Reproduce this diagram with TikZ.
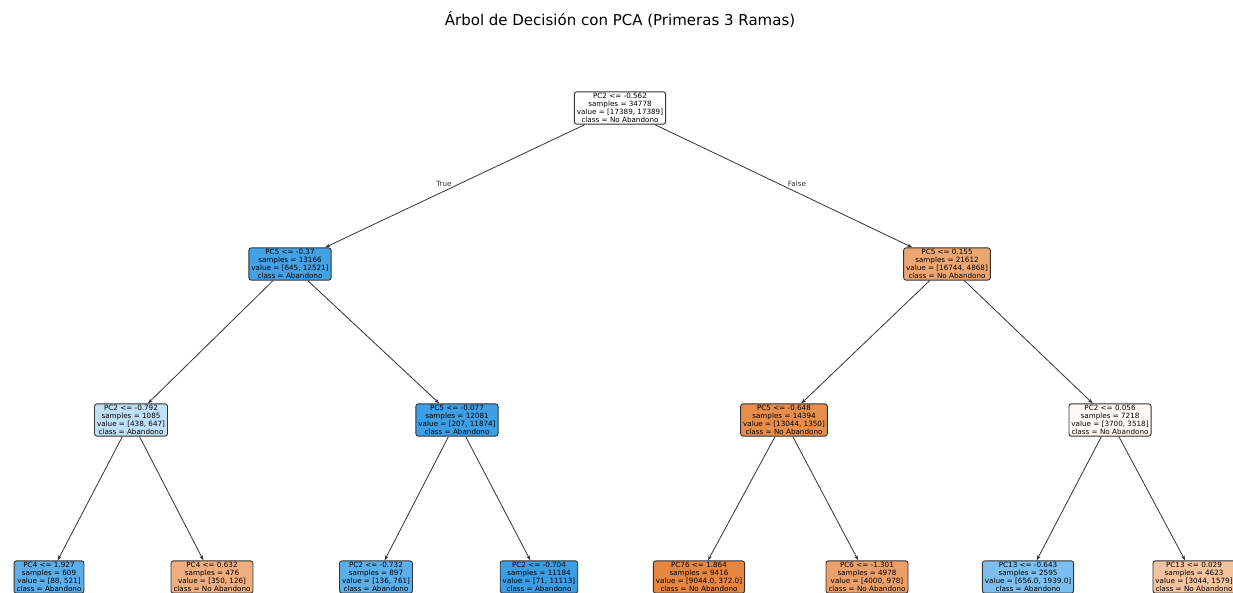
\documentclass[tikz,border=0pt]{standalone}
\usepackage{fontspec}
\setmainfont{DejaVu Sans}
\usetikzlibrary{arrows.meta}
\definecolor{abblue}{HTML}{399DE5}
\definecolor{noorange}{HTML}{E58139}
\definecolor{edgegray}{HTML}{333333}

\tikzset{
  split/.style={draw=edgegray, line width=0.9pt, rounded corners=2.5pt, align=center,
    font=\fontsize{7.2}{7.9}\selectfont, inner xsep=2.5pt, inner ysep=1.6pt},
  branch/.style={-{Stealth[length=5pt, width=3.5pt]}, edgegray, line width=0.8pt},
  edgelbl/.style={font=\fontsize{7.2}{7.9}\selectfont, text=edgegray}
}

\begin{document}
\begin{tikzpicture}[x=1pt, y=-1pt]

% Canvas
\useasboundingbox (0,0) rectangle (1233,593);
\clip (0,0) rectangle (1233,593);
\fill[white] (0,0) rectangle (1233,593);

% Title
\node[font=\fontsize{15}{17}\selectfont] (title) at (620,20)
  {Árbol de Decisión con PCA (Primeras 3 Ramas)};

% ── Depth 0 ──
\node[split, fill=white] (root) at (620,108)
  {PC2 <= -0.562\\samples = 34778\\value = [17389, 17389]\\class = No Abandono};

% ── Depth 1 ──
\node[split, fill=abblue!95] (nA) at (290,264)
  {PC5 <= -0.37\\samples = 13166\\value = [645, 12521]\\class = Abandono};
\node[split, fill=noorange!71] (nB) at (947,264)
  {PC5 <= 0.155\\samples = 21612\\value = [16744, 4868]\\class = No Abandono};

% ── Depth 2 ──
\node[split, fill=abblue!32] (nAA) at (131,420)
  {PC2 <= -0.792\\samples = 1085\\value = [438, 647]\\class = Abandono};
\node[split, fill=abblue!98] (nAB) at (457,420)
  {PC5 <= -0.077\\samples = 12081\\value = [207, 11874]\\class = Abandono};
\node[split, fill=noorange!90] (nBA) at (784,420)
  {PC5 <= -0.648\\samples = 14394\\value = [13044, 1350]\\class = No Abandono};
\node[split, fill=noorange!5] (nBB) at (1110,420)
  {PC2 <= 0.056\\samples = 7218\\value = [3700, 3518]\\class = No Abandono};

% ── Depth 3 (cut by the frame) ──
\node[split, fill=abblue!83] (nAAA) at (49,577)
  {PC4 <= 1.927\\samples = 609\\value = [88, 521]\\class = Abandono};
\node[split, fill=noorange!64] (nAAB) at (212,577)
  {PC4 <= 0.632\\samples = 476\\value = [350, 126]\\class = No Abandono};
\node[split, fill=abblue!82] (nABA) at (376,577)
  {PC2 <= -0.732\\samples = 897\\value = [136, 761]\\class = Abandono};
\node[split, fill=abblue!99] (nABB) at (539,577)
  {PC2 <= -0.704\\samples = 11184\\value = [71, 11113]\\class = Abandono};
\node[split, fill=noorange!96] (nBAA) at (699,577)
  {PC76 <= 1.864\\samples = 9416\\value = [9044.0, 372.0]\\class = No Abandono};
\node[split, fill=noorange!76] (nBAB) at (867,577)
  {PC6 <= -1.301\\samples = 4978\\value = [4000, 978]\\class = No Abandono};
\node[split, fill=abblue!66] (nBBA) at (1028,577)
  {PC13 <= -0.643\\samples = 2595\\value = [656.0, 1939.0]\\class = Abandono};
\node[split, fill=noorange!48] (nBBB) at (1194,577)
  {PC13 <= 0.029\\samples = 4623\\value = [3044, 1579]\\class = No Abandono};

% Branches
\draw[branch] (root) -- (nA);
\draw[branch] (root) -- (nB);
\draw[branch] (nA) -- (nAA);
\draw[branch] (nA) -- (nAB);
\draw[branch] (nB) -- (nBA);
\draw[branch] (nB) -- (nBB);
\draw[branch] (nAA) -- (nAAA);
\draw[branch] (nAA) -- (nAAB);
\draw[branch] (nAB) -- (nABA);
\draw[branch] (nAB) -- (nABB);
\draw[branch] (nBA) -- (nBAA);
\draw[branch] (nBA) -- (nBAB);
\draw[branch] (nBB) -- (nBBA);
\draw[branch] (nBB) -- (nBBB);

% True / False labels
\node[edgelbl] (lbltrue) at (444,184) {True};
\node[edgelbl] (lblfalse) at (797,184) {False};

\end{tikzpicture}
\end{document}
